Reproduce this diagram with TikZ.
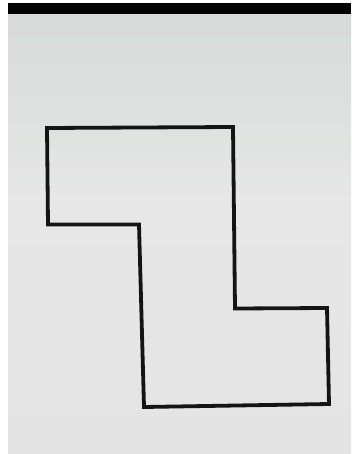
\documentclass[tikz,border=0pt]{standalone}
\begin{document}
\begin{tikzpicture}[x=1pt,y=-1pt,
  outline/.style={line width=3.8pt, draw=black!92, line join=miter}]
\definecolor{bgtop}{HTML}{D6DAD8}
\definecolor{bgmid}{HTML}{E6E7E6}
\definecolor{bgbot}{HTML}{E4E4E4}
\useasboundingbox (0,0) rectangle (351,454);
\fill[white] (0,0) rectangle (351,454);
\shade[top color=bgtop, bottom color=bgmid] (8,14) rectangle (351,200);
\shade[top color=bgmid, bottom color=bgbot] (8,200) rectangle (351,454);
\fill[black] (8,3) rectangle (351,14.5);
\draw[outline] (47,128) -- (233,127) -- (235,308.5) -- (327,308) -- (329,404) -- (144,407) -- (139,224.5) -- (48,224.5) -- cycle;
\end{tikzpicture}
\end{document}
